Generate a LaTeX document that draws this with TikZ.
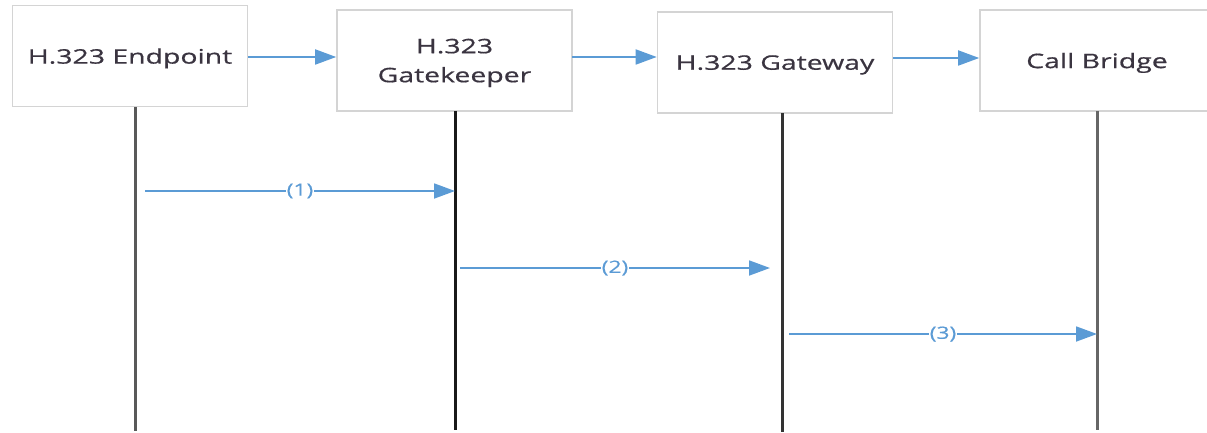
\documentclass[tikz,border=0pt]{standalone}
\usepackage{fontspec}
\setmainfont{Open Sans}[FakeStretch=1.42,FakeBold=0.6]
\newfontfamily\labelfont{Open Sans}[FakeStretch=1.35,FakeBold=0.3]
\usetikzlibrary{arrows.meta}
\definecolor{arrowblue}{HTML}{5B9BD5}
\definecolor{boxgray}{HTML}{D4D4D4}
\definecolor{txtgray}{HTML}{3A3440}
\tikzset{
  actor/.style={draw=boxgray, line width=1.6pt, fill=white, minimum width=235pt, minimum height=101pt,
    inner sep=0pt, align=center, text=txtgray, text depth=0pt, font=\fontsize{20}{29}\selectfont},
  lifeline/.style={line width=3pt, draw=black!70},
  flow/.style={draw=arrowblue, line width=1.8pt, -{Triangle[length=21pt,width=15pt]}},
  msglabel/.style={fill=white, inner sep=1pt, text=arrowblue, font=\labelfont\fontsize{17}{19}\selectfont}
}
\begin{document}
\begin{tikzpicture}[x=1pt,y=-1pt]
\useasboundingbox (0,0) rectangle (1207,433);
\begin{scope}
\clip (0,0) rectangle (1207,433);
\node[actor] (ep) at (130,56) {H.323 Endpoint};
\node[actor] (gk) at (454.5,60.5) {H.323\\Gatekeeper};
\node[actor] (gw) at (775,62.5) {H.323 Gateway};
\node[actor, minimum width=234pt] (cb) at (1097,60.5) {Call Bridge};

\coordinate (ep-top) at (135,107);
\coordinate (ep-bot) at (135,431);
\coordinate (gk-top) at (455,111);
\coordinate (gk-bot) at (455,430);
\coordinate (gw-top) at (782,113);
\coordinate (gw-bot) at (782,432);
\coordinate (cb-top) at (1097,111);
\coordinate (cb-bot) at (1097,430);

\draw[lifeline, draw=black!65] (ep-top) -- (ep-bot);
\draw[lifeline, draw=black!90] (gk-top) -- (gk-bot);
\draw[lifeline, draw=black!80] (gw-top) -- (gw-bot);
\draw[lifeline, draw=black!60] (cb-top) -- (cb-bot);

\coordinate (a1s) at (248,57);
\draw[flow] (a1s) -- (a1s -| gk.west);
\coordinate (a2s) at (572,57);
\draw[flow] (a2s) -- (a2s -| gw.west);
\coordinate (a3s) at (893,58);
\draw[flow] (a3s) -- (a3s -| cb.west);

\coordinate (m1s) at (145,191);
\coordinate (m1e) at (455,191);
\draw[flow] (m1s) -- node[msglabel, pos=0.5] (l1) {(1)} (m1e);
\coordinate (m2s) at (460,268);
\coordinate (m2e) at (770,268);
\draw[flow] (m2s) -- node[msglabel, pos=0.5] (l2) {(2)} (m2e);
\coordinate (m3s) at (789,334);
\coordinate (m3e) at (1097,334);
\draw[flow] (m3s) -- node[msglabel, pos=0.5] (l3) {(3)} (m3e);
\end{scope}
\end{tikzpicture}
\end{document}
